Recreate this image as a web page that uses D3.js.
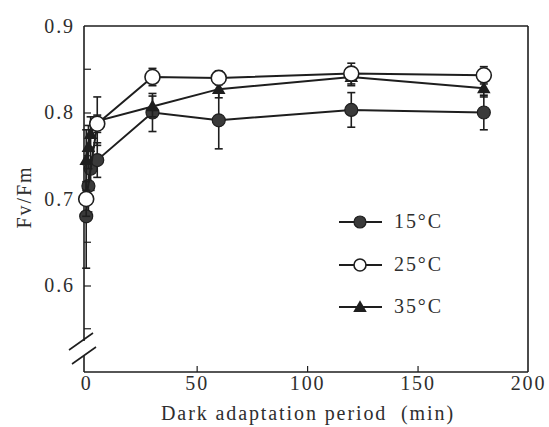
<!DOCTYPE html>
<html><head><meta charset="utf-8">
<script src="https://cdn.jsdelivr.net/npm/d3@7"></script>
<style>body{margin:0;background:#fff}svg{display:block}text{font-family:"Liberation Serif","DejaVu Serif",serif;fill:#2e2e2e}</style>
</head><body><svg id="c" width="549" height="427"></svg>
<script>
const times15 = [0, 1, 2, 5, 30, 60, 120, 180];
const s15 = [0.680, 0.715, 0.735, 0.745, 0.800, 0.791, 0.803, 0.800];
const e15 = [0.060, 0.030, 0.025, 0.020, 0.022, 0.033, 0.020, 0.020];
const times25 = [0, 5, 30, 60, 120, 180];
const s25 = [0.700, 0.787, 0.841, 0.840, 0.845, 0.843];
const e25 = [0.020, 0.010, 0.010, 0.008, 0.012, 0.010];
const times35 = [0, 1, 2, 5, 30, 60, 120, 180];
const s35 = [0.745, 0.760, 0.775, 0.790, 0.807, 0.827, 0.841, 0.828];
const e35 = [0.035, 0.025, 0.020, 0.028, 0.012, 0.010, 0.010, 0.010];
const seriesNames = ["15°C", "25°C", "35°C"];
const xTicks = [0, 50, 100, 150, 200];
const yTicks = [0.6, 0.7, 0.8, 0.9];
const yMinor = [0.55, 0.65, 0.75, 0.85];

const svg = d3.select("#c");
const x = d3.scaleLinear().domain([-1, 200]).range([84, 528]);
const y = d3.scaleLinear().domain([0.5, 0.9]).range([372, 26]);
const ink = "#1e1e1e";
const LS = "1.9px";
const FS = "20px";

svg.append("line").attr("x1", x(-1)).attr("x2", x(200)).attr("y1", y(0.9)).attr("y2", y(0.9)).attr("stroke", ink).attr("stroke-width", 1.6);
svg.append("line").attr("x1", x(200)).attr("x2", x(200)).attr("y1", y(0.9)).attr("y2", y(0.5)).attr("stroke", ink).attr("stroke-width", 1.6);

const xa = svg.append("g").attr("transform", `translate(0,${y(0.5)})`)
  .call(d3.axisBottom(x).tickValues(xTicks).tickSize(-6).tickPadding(4).tickFormat(d3.format("d")));
xa.select(".domain").attr("stroke", ink).attr("stroke-width", 1.6).attr("d", `M${x(-1)},0H${x(200)}`);
xa.selectAll(".tick line").attr("stroke", ink).attr("stroke-width", 1.2);
xa.selectAll(".tick").filter(d => d === 0 || d === 200).select("line").remove();
xa.selectAll("text").style("font-size", FS).style("letter-spacing", LS).attr("fill", "#2e2e2e");

const ya = svg.append("g").attr("transform", `translate(${x(-1)},0)`)
  .call(d3.axisLeft(y).tickValues(yTicks).tickSize(-7).tickPadding(9).tickFormat(d3.format(".1f")));
ya.select(".domain").remove();
ya.selectAll(".tick line").attr("stroke", ink).attr("stroke-width", 1.2);
ya.selectAll(".tick").filter(d => d === 0.9).select("line").remove();
ya.selectAll("text").style("font-size", FS).style("letter-spacing", LS).attr("fill", "#2e2e2e");
svg.append("g").selectAll("line").data(yMinor).join("line")
  .attr("x1", x(-1)).attr("x2", x(-1) + 7).attr("y1", d => y(d)).attr("y2", d => y(d))
  .attr("stroke", ink).attr("stroke-width", 1.2);
svg.append("line").attr("x1", x(-1)).attr("x2", x(-1)).attr("y1", y(0.9)).attr("y2", 341).attr("stroke", ink).attr("stroke-width", 1.6);
svg.append("line").attr("x1", x(-1)).attr("x2", x(-1)).attr("y1", 356).attr("y2", y(0.5)).attr("stroke", ink).attr("stroke-width", 1.6);
svg.append("line").attr("x1", 69).attr("y1", 350).attr("x2", 93).attr("y2", 333).attr("stroke", ink).attr("stroke-width", 1.6);
svg.append("line").attr("x1", 72).attr("y1", 364).attr("x2", 96).attr("y2", 347).attr("stroke", ink).attr("stroke-width", 1.6);

svg.append("text").attr("x", 308).attr("y", 420).attr("text-anchor", "middle").style("font-size", FS).style("letter-spacing", LS).text("Dark adaptation period\u00a0\u00a0(min)");
svg.append("text").attr("transform", "translate(31,197) rotate(-90)").attr("text-anchor", "middle").style("font-size", FS).style("letter-spacing", LS).text("Fv/Fm");

const series = [
  {t: times15, v: s15, e: e15, type: "fill"},
  {t: times35, v: s35, e: e35, type: "tri"},
  {t: times25, v: s25, e: e25, type: "open"}
];
const tri = d3.symbol().type(d3.symbolTriangle).size(80);

function marker(g, type, cx, cy, big) {
  if (type === "fill") g.append("circle").attr("cx", cx).attr("cy", cy).attr("r", big ? 6.5 : 6).attr("fill", "#3a3a3a").attr("stroke", ink).attr("stroke-width", 1.2);
  else if (type === "open") g.append("circle").attr("cx", cx).attr("cy", cy).attr("r", big ? 7.5 : 6).attr("fill", "#fff").attr("stroke", ink).attr("stroke-width", 1.6);
  else g.append("path").attr("d", tri).attr("transform", `translate(${cx},${cy + 1})`).attr("fill", ink);
}

series.forEach(s => {
  const g = svg.append("g");
  const line = d3.line().x((d, i) => x(s.t[i])).y(d => y(d));
  s.v.forEach((v, i) => {
    const cx = x(s.t[i]);
    g.append("line").attr("x1", cx).attr("x2", cx).attr("y1", y(v - s.e[i])).attr("y2", y(v + s.e[i])).attr("stroke", ink).attr("stroke-width", 1.6);
    [v - s.e[i], v + s.e[i]].forEach(yy => g.append("line").attr("x1", cx - 4).attr("x2", cx + 4).attr("y1", y(yy)).attr("y2", y(yy)).attr("stroke", ink).attr("stroke-width", 1.6));
  });
  g.append("path").attr("d", line(s.v)).attr("fill", "none").attr("stroke", ink).attr("stroke-width", 2);
  s.v.forEach((v, i) => marker(g, s.type, x(s.t[i]), y(v), true));
});

const leg = [{n: seriesNames[0], t: "fill", y: 222}, {n: seriesNames[1], t: "open", y: 265}, {n: seriesNames[2], t: "tri", y: 307}];
leg.forEach(l => {
  const g = svg.append("g");
  g.append("line").attr("x1", 339).attr("x2", 382).attr("y1", l.y).attr("y2", l.y).attr("stroke", ink).attr("stroke-width", 2);
  marker(g, l.t, 360, l.y, false);
  g.append("text").attr("x", 394).attr("y", l.y + 6).style("font-size", FS).style("letter-spacing", LS).text(l.n);
});
</script></body></html>
